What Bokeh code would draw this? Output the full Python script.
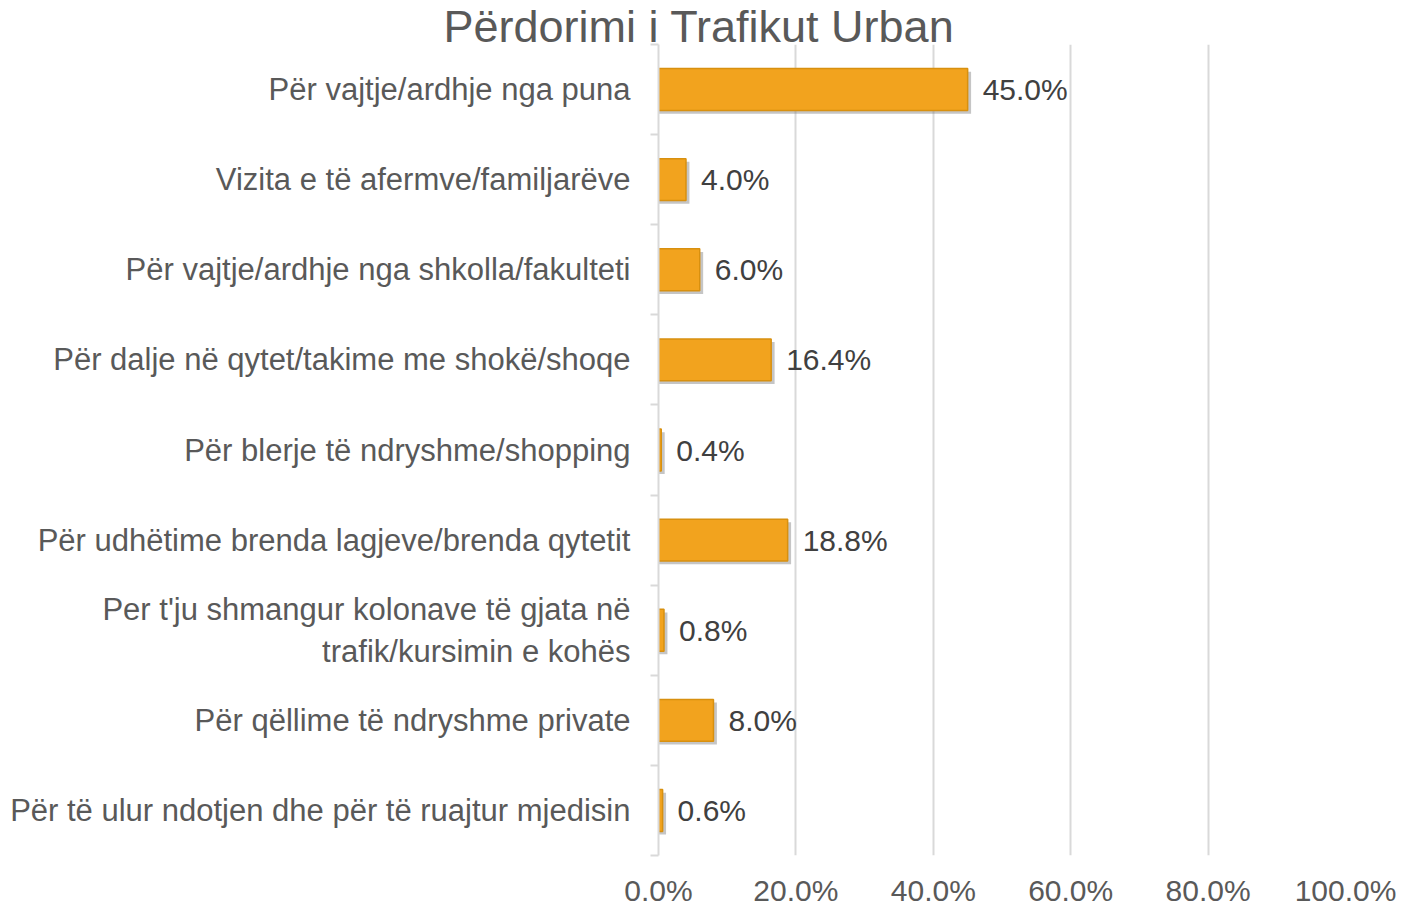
from bokeh.plotting import figure
from bokeh.models import (ColumnDataSource, FixedTicker, LinearAxis, Title,
                          NumeralTickFormatter, Range1d)
from bokeh.transform import dodge
from bokeh.core.properties import value
from bokeh.embed import file_html
from bokeh.resources import INLINE

categories = [
    "Për vajtje/ardhje nga puna",
    "Vizita e të afermve/familjarëve",
    "Për vajtje/ardhje nga shkolla/fakulteti",
    "Për dalje në qytet/takime me shokë/shoqe",
    "Për blerje të ndryshme/shopping",
    "Për udhëtime brenda lagjeve/brenda qytetit",
    "Per t'ju shmangur kolonave të gjata në\ntrafik/kursimin e kohës",
    "Për qëllime të ndryshme private",
    "Për të ulur ndotjen dhe për të ruajtur mjedisin",
]
values = [0.450, 0.040, 0.060, 0.164, 0.004, 0.188, 0.008, 0.080, 0.006]
x_ticks = [0.0, 0.2, 0.4, 0.6, 0.8, 1.0]
title_text = "Përdorimi i Trafikut Urban"

n = len(categories)
ypos = [n - 1 - i for i in range(n)]
labels = [f"{v * 100:.1f}%" for v in values]
src = ColumnDataSource(dict(y=ypos, v=values, lab=labels, cat=categories))

FONT = "Liberation Sans"
TXT = "#595959"

p = figure(width=1398, height=909, output_backend="svg", toolbar_location=None,
           x_range=Range1d(0, 1.0), y_range=Range1d(-0.5, n - 0.5),
           min_border_left=658, min_border_top=44, min_border_bottom=52,
           min_border_right=53, y_axis_location=None, title=None)
p.outline_line_color = None
p.ygrid.grid_line_color = None
p.xgrid.grid_line_color = "#D9D9D9"
p.xgrid.grid_line_width = 2
p.xgrid.ticker = FixedTicker(ticks=x_ticks)

xa = p.xaxis[0]
xa.ticker = FixedTicker(ticks=x_ticks)
xa.formatter = NumeralTickFormatter(format="0.0%")
xa.axis_line_color = None
xa.major_tick_line_color = None
xa.minor_tick_line_color = None
xa.major_tick_out = 0
xa.major_tick_in = 0
xa.major_label_standoff = 18
xa.major_label_text_font = FONT
xa.major_label_text_font_size = "30px"
xa.major_label_text_color = TXT

# axis with ticks at category boundaries
bounds = [b - 0.5 for b in range(n + 1)]
tick_axis = LinearAxis(ticker=FixedTicker(ticks=bounds),
                       major_label_overrides={b: "" for b in bounds})
tick_axis.axis_line_color = "#D9D9D9"
tick_axis.axis_line_width = 2
tick_axis.major_tick_line_color = "#D9D9D9"
tick_axis.major_tick_line_width = 2
tick_axis.major_tick_out = 8
tick_axis.major_tick_in = 0
tick_axis.minor_tick_line_color = None
tick_axis.major_label_standoff = 0
tick_axis.major_label_text_font_size = "1px"
p.add_layout(tick_axis, "left")

# axis with category labels at centres
lab_axis = LinearAxis(ticker=FixedTicker(ticks=ypos),
                      major_label_overrides={y: c for y, c in zip(ypos, categories)})
lab_axis.axis_line_color = None
lab_axis.major_tick_line_color = None
lab_axis.minor_tick_line_color = None
lab_axis.major_tick_out = 0
lab_axis.major_tick_in = 0
lab_axis.major_label_standoff = 20
lab_axis.major_label_text_font = FONT
lab_axis.major_label_text_font_size = "31px"
lab_axis.major_label_text_color = TXT
p.add_layout(lab_axis, "left")

# shadow
p.hbar(y=dodge("y", -0.035), left=0, right=dodge("v", 0.005), height=0.465,
       source=src, fill_color="#7F7F7F", fill_alpha=0.45, line_color=None)
# bars
p.hbar(y="y", left=0, right="v", height=0.465, source=src,
       fill_color="#F2A31E", line_color="#D8900F", line_width=1.5)

p.text(x="v", y="y", text="lab", source=src, x_offset=15,
       text_align="left", text_baseline="middle",
       text_font=value(FONT), text_font_size="30px", text_color="#404040")

p.add_layout(Title(text=title_text, align="left", offset=-215, standoff=-14,
                   text_font=FONT, text_font_size="45px",
                   text_font_style="normal", text_color=TXT), "above")

open("out.html", "w").write(file_html(p, INLINE))
